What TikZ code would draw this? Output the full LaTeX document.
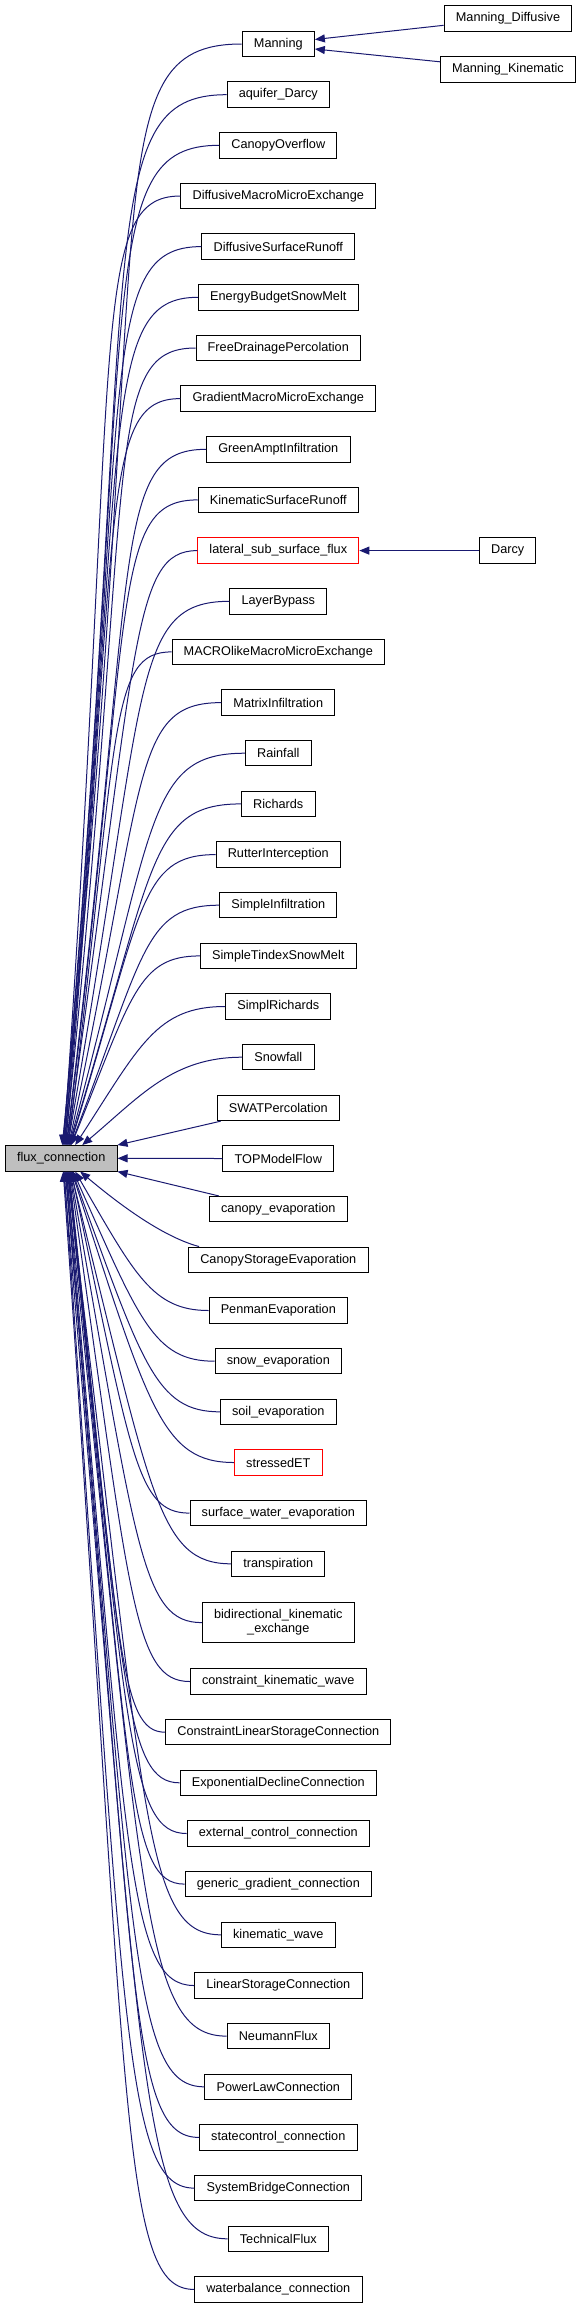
\documentclass[tikz,border=0pt]{standalone}
\usepackage{fontspec}
\usepackage{tikz}
\usetikzlibrary{arrows.meta}

\newfontfamily\dxfont{Liberation Sans}
\definecolor{dxblue}{HTML}{191970}
\definecolor{dxgray}{HTML}{BFBFBF}

\tikzset{
	>={Triangle[length=10pt,width=8pt]},
	cls/.style={draw=black, line width=1pt, inner xsep=11.7pt, inner ysep=0pt, minimum height=25.5pt, font=\dxfont\fontsize{12.7}{14}\selectfont},
	clsred/.style={cls, draw=red},
	base/.style={cls, fill=dxgray},
	edge/.style={<-, draw=dxblue, line width=1pt}
}

\begin{document}
\begin{tikzpicture}[x=1pt,y=1pt]
					\useasboundingbox (0,0) rectangle (581,-2308);
					
					\node[base] (flux) at (61.2,-1158.3) {flux\_connection};
					
					\node[cls] (manning) at (278.3,-44.0) {Manning};
					\node[cls] (mdiff) at (508,-18.3) {Manning\_Diffusive};
					\node[cls] (mkin) at (508,-69.3) {Manning\_Kinematic};
					\node[cls] (aquifer) at (278.3,-94.7) {aquifer\_Darcy};
					\node[cls] (canopyover) at (278.3,-145.3) {CanopyOverflow};
					\node[cls] (diffmacro) at (278.3,-196.0) {DiffusiveMacroMicroExchange};
					\node[cls] (diffsurf) at (278.3,-246.6) {DiffusiveSurfaceRunoff};
					\node[cls] (energysnow) at (278.3,-297.3) {EnergyBudgetSnowMelt};
					\node[cls] (freedrain) at (278.3,-348.0) {FreeDrainagePercolation};
					\node[cls] (gradmacro) at (278.3,-398.6) {GradientMacroMicroExchange};
					\node[cls] (greenampt) at (278.3,-449.3) {GreenAmptInfiltration};
					\node[cls] (kinsurf) at (278.3,-499.9) {KinematicSurfaceRunoff};
					\node[clsred] (lateral) at (278.3,-550.6) {lateral\_sub\_surface\_flux};
					\node[cls] (darcy) at (507.7,-550.6) {Darcy};
					\node[cls] (layerbypass) at (278.3,-601.3) {LayerBypass};
					\node[cls] (macrolike) at (278.3,-651.9) {MACROlikeMacroMicroExchange};
					\node[cls] (matrixinf) at (278.3,-702.6) {MatrixInfiltration};
					\node[cls] (rainfall) at (278.3,-753.2) {Rainfall};
					\node[cls] (richards) at (278.3,-803.9) {Richards};
					\node[cls] (rutter) at (278.3,-854.6) {RutterInterception};
					\node[cls] (simpleinf) at (278.3,-905.2) {SimpleInfiltration};
					\node[cls] (simpletindex) at (278.3,-955.9) {SimpleTindexSnowMelt};
					\node[cls] (simplrichards) at (278.3,-1006.5) {SimplRichards};
					\node[cls] (snowfall) at (278.3,-1057.2) {Snowfall};
					\node[cls] (swat) at (278.3,-1107.9) {SWATPercolation};
					\node[cls] (topmodel) at (278.3,-1158.5) {TOPModelFlow};
					\node[cls] (canopyevap) at (278.3,-1209.2) {canopy\_evaporation};
					\node[cls] (canopystor) at (278.3,-1259.8) {CanopyStorageEvaporation};
					\node[cls] (penman) at (278.3,-1310.5) {PenmanEvaporation};
					\node[cls] (snowevap) at (278.3,-1361.2) {snow\_evaporation};
					\node[cls] (soilevap) at (278.3,-1411.8) {soil\_evaporation};
					\node[clsred] (stressedet) at (278.3,-1462.5) {stressedET};
					\node[cls] (surfevap) at (278.3,-1513.1) {surface\_water\_evaporation};
					\node[cls] (transp) at (278.3,-1563.8) {transpiration};
					\node[cls, minimum height=40.4pt, align=center] (bidir) at (278.3,-1622.6) {bidirectional\_kinematic\\\_exchange};
					\node[cls] (conskin) at (278.3,-1681.5) {constraint\_kinematic\_wave};
					\node[cls] (conslin) at (278.3,-1732.2) {ConstraintLinearStorageConnection};
					\node[cls] (expdecl) at (278.3,-1782.8) {ExponentialDeclineConnection};
					\node[cls] (extcontrol) at (278.3,-1833.5) {external\_control\_connection};
					\node[cls] (genericgrad) at (278.3,-1884.1) {generic\_gradient\_connection};
					\node[cls] (kinwave) at (278.3,-1934.8) {kinematic\_wave};
					\node[cls] (linstor) at (278.3,-1985.5) {LinearStorageConnection};
					\node[cls] (neumann) at (278.3,-2036.1) {NeumannFlux};
					\node[cls] (powerlaw) at (278.3,-2086.8) {PowerLawConnection};
					\node[cls] (statecontrol) at (278.3,-2137.4) {statecontrol\_connection};
					\node[cls] (sysbridge) at (278.3,-2188.1) {SystemBridgeConnection};
					\node[cls] (technical) at (278.3,-2238.8) {TechnicalFlux};
					\node[cls] (waterbal) at (278.3,-2289.4) {waterbalance\_connection};
					
					\draw[edge] ([yshift=4.5pt]manning.east) -- ([yshift=-7pt]mdiff.west);
					\draw[edge] ([yshift=-5pt]manning.east) -- ([yshift=7.5pt]mkin.west);
					\draw[edge] (lateral.east) -- (darcy.west);
					
					\draw[edge] ([xshift=1pt]flux.north) .. controls +(84:936pt) and +(180:154pt) .. (manning.west);
					\draw[edge] ([xshift=1.5pt]flux.north) .. controls +(85:893pt) and +(180:137pt) .. (aquifer.west);
					\draw[edge] ([xshift=2pt]flux.north) .. controls +(85:850pt) and +(180:128pt) .. (canopyover.west);
					\draw[edge] ([xshift=2.5pt]flux.north) .. controls +(86:807pt) and +(180:92pt) .. (diffmacro.west);
					\draw[edge] ([xshift=3pt]flux.north) .. controls +(85:764pt) and +(180:107pt) .. (diffsurf.west);
					\draw[edge] ([xshift=3.5pt]flux.north) .. controls +(85:721pt) and +(180:100pt) .. (energysnow.west);
					\draw[edge] ([xshift=4pt]flux.north) .. controls +(84:678pt) and +(180:95pt) .. (freedrain.west);
					\draw[edge] ([xshift=4.5pt]flux.north) .. controls +(85:635pt) and +(180:82pt) .. (gradmacro.west);
					\draw[edge] ([xshift=5pt]flux.north) .. controls +(83:592pt) and +(180:96pt) .. (greenampt.west);
					\draw[edge] ([xshift=5.5pt]flux.north) .. controls +(83:549pt) and +(180:87pt) .. (kinsurf.west);
					\draw[edge] ([xshift=6pt]flux.north) .. controls +(82:506pt) and +(180:65pt) .. (lateral.west);
					\draw[edge] ([xshift=6.5pt]flux.north) .. controls +(80:463pt) and +(180:100pt) .. (layerbypass.west);
					\draw[edge] ([xshift=7pt]flux.north) .. controls +(83:420pt) and +(180:63pt) .. (macrolike.west);
					\draw[edge] ([xshift=7.5pt]flux.north) .. controls +(78:377pt) and +(180:90pt) .. (matrixinf.west);
					\draw[edge] ([xshift=8pt]flux.north) .. controls +(75:334pt) and +(180:99pt) .. (rainfall.west);
					\draw[edge] ([xshift=8.5pt]flux.north) .. controls +(73:290pt) and +(180:93pt) .. (richards.west);
					\draw[edge] ([xshift=9pt]flux.north) .. controls +(73:247pt) and +(180:76pt) .. (rutter.west);
					\draw[edge] ([xshift=9.5pt]flux.north) .. controls +(69:204pt) and +(180:75pt) .. (simpleinf.west);
					\draw[edge] ([xshift=10pt]flux.north) .. controls +(68:161pt) and +(180:62pt) .. (simpletindex.west);
					\draw[edge] ([xshift=14pt]flux.north) .. controls +(57:118pt) and +(180:69pt) .. (simplrichards.west);
					\draw[edge] ([xshift=21pt]flux.north) .. controls +(40:75pt) and +(180:70pt) .. (snowfall.west);
					
					\draw[edge] (flux.north east) -- ([xshift=4pt]swat.south west);
					\draw[edge] (flux.east) -- (topmodel.west);
					\draw[edge] (flux.south east) -- ([xshift=10pt]canopyevap.north west);
					\draw[edge] ([xshift=19pt]flux.south) .. controls +(-40:45pt) and +(165:40pt) .. ([xshift=11pt]canopystor.north west);
					
					\draw[edge] ([xshift=14pt]flux.south) .. controls +(-60:119pt) and +(180:56pt) .. (penman.west);
					\draw[edge] ([xshift=12pt]flux.south) .. controls +(-66:162pt) and +(180:61pt) .. (snowevap.west);
					\draw[edge] ([xshift=11pt]flux.south) .. controls +(-70:205pt) and +(180:64pt) .. (soilevap.west);
					\draw[edge] ([xshift=10.5pt]flux.south) .. controls +(-72:248pt) and +(180:72pt) .. (stressedet.west);
					\draw[edge] ([xshift=10pt]flux.south) .. controls +(-78:291pt) and +(180:53pt) .. (surfevap.west);
					\draw[edge] ([xshift=9.5pt]flux.south) .. controls +(-76:334pt) and +(180:73pt) .. (transp.west);
					\draw[edge] ([xshift=9pt]flux.south) .. controls +(-80:384pt) and +(180:60pt) .. (bidir.west);
					\draw[edge] ([xshift=8.5pt]flux.south) .. controls +(-82:434pt) and +(180:56pt) .. (conskin.west);
					\draw[edge] ([xshift=8pt]flux.south) .. controls +(-84:477pt) and +(180:46pt) .. (conslin.west);
					\draw[edge] ([xshift=7.5pt]flux.south) .. controls +(-84:520pt) and +(180:54pt) .. (expdecl.west);
					\draw[edge] ([xshift=7pt]flux.south) .. controls +(-84:563pt) and +(180:58pt) .. (extcontrol.west);
					\draw[edge] ([xshift=6.5pt]flux.south) .. controls +(-84:606pt) and +(180:58pt) .. (genericgrad.west);
					\draw[edge] ([xshift=6pt]flux.south) .. controls +(-83:649pt) and +(180:78pt) .. (kinwave.west);
					\draw[edge] ([xshift=5.5pt]flux.south) .. controls +(-85:692pt) and +(180:66pt) .. (linstor.west);
					\draw[edge] ([xshift=5pt]flux.south) .. controls +(-84:735pt) and +(180:84pt) .. (neumann.west);
					\draw[edge] ([xshift=4.5pt]flux.south) .. controls +(-85:778pt) and +(180:73pt) .. (powerlaw.west);
					\draw[edge] ([xshift=4pt]flux.south) .. controls +(-85:821pt) and +(180:71pt) .. (statecontrol.west);
					\draw[edge] ([xshift=3pt]flux.south) .. controls +(-86:865pt) and +(180:70pt) .. (sysbridge.west);
					\draw[edge] ([xshift=2.5pt]flux.south) .. controls +(-85:908pt) and +(180:89pt) .. (technical.west);
					\draw[edge] ([xshift=2pt]flux.south) .. controls +(-86:951pt) and +(180:73pt) .. (waterbal.west);
				\end{tikzpicture}
\end{document}
